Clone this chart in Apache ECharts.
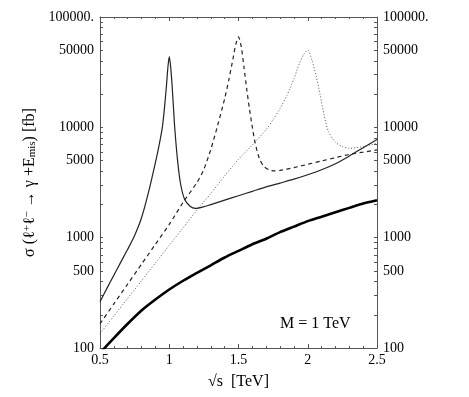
<!DOCTYPE html>
<html>
<head>
<meta charset="utf-8">
<script src="https://cdn.jsdelivr.net/npm/echarts@6/dist/echarts.min.js"></script>
<style>
  html, body { margin: 0; padding: 0; background: #fff; }
  #chart { width: 469px; height: 397px; }
</style>
</head>
<body>
<div id="chart"></div>
<script>
// sqrt(s) in TeV, sigma in fb
const xThin = [0.5, 0.55, 0.6, 0.65, 0.7, 0.75, 0.8, 0.85, 0.9, 0.93, 0.95, 0.965, 0.98, 0.99, 1.0, 1.01, 1.02, 1.03, 1.04, 1.06, 1.08, 1.11, 1.15, 1.19, 1.25, 1.3, 1.4, 1.5, 1.6, 1.7, 1.8, 1.9, 2.0, 2.1, 2.2, 2.3, 2.4, 2.5];
const sigmaThin = [263, 347, 457, 600, 785, 1047, 1514, 2570, 4786, 7244, 10000, 14791, 23988, 34674, 43652, 35481, 24547, 15488, 9772, 5012, 3162, 2239, 1928, 1841, 1905, 1995, 2188, 2399, 2630, 2884, 3126, 3388, 3715, 4121, 4677, 5495, 6531, 7762];

const xDashed = [0.5, 0.6, 0.7, 0.8, 0.9, 1.0, 1.1, 1.2, 1.25, 1.3, 1.35, 1.4, 1.43, 1.46, 1.48, 1.5, 1.52, 1.54, 1.56, 1.58, 1.6, 1.62, 1.65, 1.68, 1.72, 1.76, 1.8, 1.9, 2.0, 2.1, 2.2, 2.3, 2.4, 2.5];
const sigmaDashed = [166, 251, 380, 575, 871, 1318, 2089, 3162, 4169, 6310, 10471, 18197, 26915, 41687, 56234, 66069, 53703, 34674, 21878, 14454, 10000, 7244, 5248, 4467, 4121, 4027, 4074, 4315, 4624, 4955, 5309, 5689, 5957, 6237];

const xDotted = [0.5, 0.6, 0.7, 0.8, 0.9, 1.0, 1.1, 1.2, 1.3, 1.4, 1.5, 1.6, 1.7, 1.75, 1.8, 1.85, 1.9, 1.94, 1.97, 2.0, 2.03, 2.06, 2.09, 2.12, 2.15, 2.2, 2.25, 2.3, 2.35, 2.4, 2.45, 2.5];
const sigmaDotted = [135, 195, 282, 407, 589, 851, 1230, 1778, 2512, 3631, 5129, 6918, 9550, 11749, 14791, 19498, 27542, 38019, 45709, 50119, 40738, 29512, 19498, 12589, 9120, 7328, 6683, 6457, 6531, 6683, 6918, 7161];

const xThick = [0.5, 0.6, 0.7, 0.8, 0.9, 1.0, 1.1, 1.2, 1.3, 1.4, 1.5, 1.6, 1.7, 1.8, 1.9, 2.0, 2.1, 2.2, 2.3, 2.4, 2.5];
const sigmaThick = [90, 123, 166, 219, 275, 339, 407, 479, 562, 661, 759, 871, 977, 1122, 1259, 1413, 1549, 1698, 1862, 2042, 2188];

const yLabelValues = [100, 500, 1000, 5000, 10000, 50000, 100000];
const yTickValues = [100, 200, 300, 400, 500, 600, 700, 800, 900,
  1000, 2000, 3000, 4000, 5000, 6000, 7000, 8000, 9000,
  10000, 20000, 30000, 40000, 50000, 60000, 70000, 80000, 90000, 100000];

const serif = 'Liberation Serif';
const axisColor = '#555';

const pairs = (xs, ys) => xs.map((x, i) => [x, ys[i]]);

const chart = echarts.init(document.getElementById('chart'));

const xAxisBase = {
  type: 'value',
  min: 0.5,
  max: 2.5,
  interval: 0.5,
  axisLine: { lineStyle: { color: axisColor, width: 1 } },
  axisTick: { inside: true, length: 4, lineStyle: { color: axisColor } },
  minorTick: { show: true, splitNumber: 5, length: 2, lineStyle: { color: axisColor } },
  splitLine: { show: false },
  minorSplitLine: { show: false }
};

const yAxisBase = {
  type: 'log',
  logBase: 10,
  min: 100,
  max: 100000,
  axisLine: { show: true, lineStyle: { color: axisColor, width: 1 } },
  axisTick: { show: true, inside: true, length: 3, customValues: yTickValues, lineStyle: { color: axisColor } },
  axisLabel: {
    customValues: yLabelValues,
    color: '#000',
    fontFamily: serif,
    fontSize: 14,
    margin: 6,
    formatter: v => (v === 100000 ? '100000.' : String(v))
  },
  splitLine: { show: false }
};

chart.setOption({
  animation: false,
  backgroundColor: '#fff',
  grid: { left: 100, right: 92, top: 17, bottom: 49 },
  xAxis: [
    Object.assign({}, xAxisBase, {
      position: 'bottom',
      name: '√s  [TeV]',
      nameLocation: 'middle',
      nameGap: 26,
      nameTextStyle: { color: '#000', fontFamily: serif, fontSize: 16 },
      axisLabel: { color: '#000', fontFamily: serif, fontSize: 14, margin: 5 }
    }),
    Object.assign({}, xAxisBase, {
      position: 'top',
      axisLabel: { show: false }
    })
  ],
  yAxis: [
    Object.assign({}, yAxisBase, {
      position: 'left',
      name: 'σ (ℓ{sup|+}ℓ{sup|−} → γ +E{sub|mis}) [fb]',
      nameLocation: 'middle',
      nameGap: 60,
      nameTextStyle: {
        color: '#000',
        fontFamily: serif,
        fontSize: 16,
        rich: {
          sup: { fontFamily: serif, fontSize: 11, verticalAlign: 'top', color: '#000' },
          sub: { fontFamily: serif, fontSize: 11, verticalAlign: 'bottom', color: '#000' }
        }
      }
    }),
    Object.assign({}, yAxisBase, { position: 'right' })
  ],
  graphic: [{
    type: 'text',
    left: 280,
    top: 316,
    style: { text: 'M = 1 TeV', fill: '#000', font: '16px "Liberation Serif"' }
  }],
  series: [
    {
      type: 'line',
      data: pairs(xThick, sigmaThick),
      showSymbol: false,
      smooth: 0.2,
      lineStyle: { color: '#000', width: 2.6 }
    },
    {
      type: 'line',
      data: pairs(xThin, sigmaThin),
      showSymbol: false,
      smooth: 0.25,
      lineStyle: { color: '#222', width: 1.2 }
    },
    {
      type: 'line',
      data: pairs(xDashed, sigmaDashed),
      showSymbol: false,
      smooth: 0.25,
      lineStyle: { color: '#222', width: 1.2, type: [4, 3.5] }
    },
    {
      type: 'line',
      data: pairs(xDotted, sigmaDotted),
      showSymbol: false,
      smooth: 0.25,
      lineStyle: { color: '#555', width: 1, type: [1, 2] }
    }
  ]
});
</script>
</body>
</html>
